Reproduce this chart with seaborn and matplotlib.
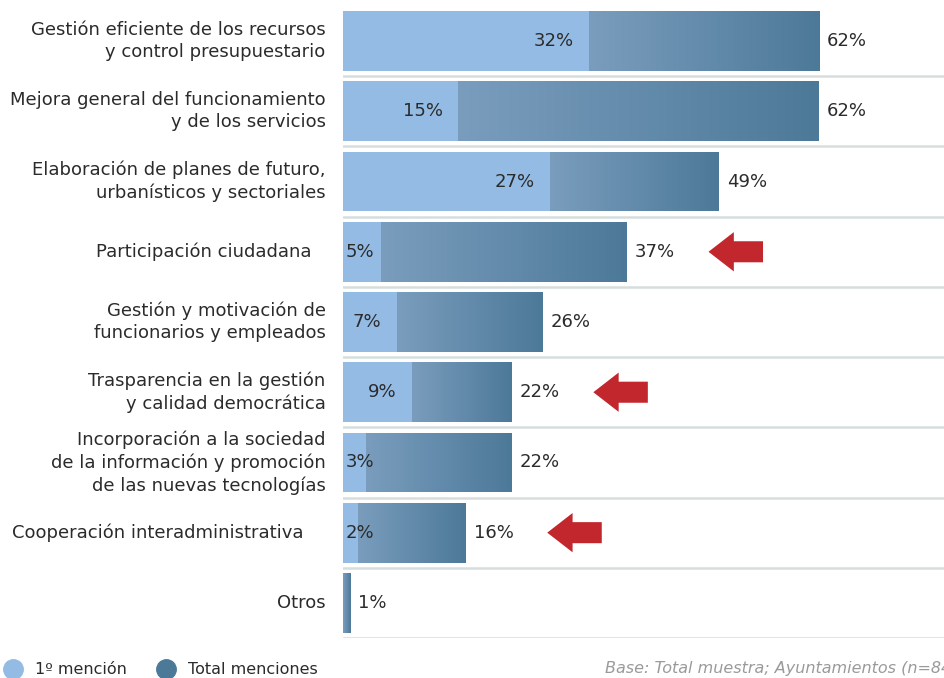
import matplotlib
matplotlib.use("Agg")
import matplotlib.pyplot as plt
import seaborn as sns
import pandas as pd
import numpy as np
from matplotlib.colors import LinearSegmentedColormap
from matplotlib.lines import Line2D
from matplotlib.patches import FancyArrow
from matplotlib.transforms import offset_copy

categories = [
    "Gestión eficiente de los recursos\ny control presupuestario",
    "Mejora general del funcionamiento\ny de los servicios",
    "Elaboración de planes de futuro,\nurbanísticos y sectoriales",
    "Participación ciudadana",
    "Gestión y motivación de\nfuncionarios y empleados",
    "Trasparencia en la gestión\ny calidad democrática",
    "Incorporación a la sociedad\nde la información y promoción\nde las nuevas tecnologías",
    "Cooperación interadministrativa",
    "Otros",
]
first_mention = [32, 15, 27, 5, 7, 9, 3, 2, 0]
total_mentions = [62, 62, 49, 37, 26, 22, 22, 16, 1]
highlighted = [
    "Participación ciudadana",
    "Trasparencia en la gestión\ny calidad democrática",
    "Cooperación interadministrativa",
]

LIGHT = "#93bbe4"
DARK_START = "#7a9dbd"
DARK_END = "#4d7999"
ARROW_RED = "#c1272d"
TEXT = "#2b2b2b"
FS = 13

# a few labels sit a little further left in the original layout
label_shift_pt = {
    "Participación ciudadana": 10,
    "Cooperación interadministrativa": 16,
}

df = pd.DataFrame({"category": categories, "first": first_mention, "total": total_mentions})

sns.set_theme(style="white")
plt.rcParams["font.family"] = ["DejaVu Sans"]

fig = plt.figure(figsize=(9.45, 6.78), dpi=100)
ax = fig.add_axes([343 / 945, 1 - 638 / 678, 1 - 343 / 945, (638 - 6) / 678])

# total mentions (later painted with a gradient)
sns.barplot(data=df, y="category", x="total", orient="h", color=DARK_END,
            width=0.85, ax=ax, saturation=1, linewidth=0)
total_patches = list(ax.patches)

grad_cmap = LinearSegmentedColormap.from_list("g", [DARK_START, DARK_END])
gradient = np.linspace(0, 1, 256).reshape(1, -1)
for p, f in zip(total_patches, df["first"]):
    x0 = p.get_x() + f
    x1 = p.get_x() + p.get_width()
    y0 = p.get_y()
    y1 = y0 + p.get_height()
    im = ax.imshow(gradient, cmap=grad_cmap, aspect="auto",
                   extent=(x0, x1, y1, y0), zorder=2)
    im.set_clip_path(p)
    p.set_zorder(1)

# first mention on top
sns.barplot(data=df, y="category", x="first", orient="h", color=LIGHT,
            width=0.85, ax=ax, saturation=1, linewidth=0, zorder=3)

ax.set_xlim(0, 78.4)
ax.set_ylim(len(categories) - 0.5, -0.5)
ax.set_xlabel("")
ax.set_ylabel("")
ax.set_xticks([])
ax.set_yticks(range(len(categories)))
ax.set_yticklabels([])
ax.tick_params(axis="y", left=False)
for s in ax.spines.values():
    s.set_visible(False)

# category labels
for i, c in enumerate(df["category"]):
    tr = offset_copy(ax.get_yaxis_transform(), fig=fig,
                     x=-12.5 - label_shift_pt.get(c, 0), y=0, units="points")
    ax.text(0, i, c, transform=tr, ha="right", va="center", fontsize=FS,
            color=TEXT, linespacing=1.3, multialignment="right")

# row separators
for i in range(len(categories)):
    ax.axhline(i + 0.5, color="#d6dddd", lw=1.8, zorder=0)

for i, (f, t) in enumerate(zip(df["first"], df["total"])):
    if f > 0:
        if f < 6:
            ax.text(0.3, i, f"{f}%", ha="left", va="center", fontsize=FS,
                    color=TEXT, zorder=4)
        else:
            ax.text(f - 2, i, f"{f}%", ha="right", va="center", fontsize=FS,
                    color=TEXT, zorder=4)
    ax.text(t + 1, i, f"{t}%", ha="left", va="center", fontsize=FS,
            color=TEXT, zorder=4)

# red arrows for highlighted items
for i, (c, t) in enumerate(zip(df["category"], df["total"])):
    if c in highlighted:
        tail = t + 10.6 + 7.1
        ax.add_patch(FancyArrow(tail, i, -7.1, 0, width=0.3, head_width=0.56,
                                head_length=3.3, length_includes_head=True,
                                color=ARROW_RED, lw=0, zorder=5))

handles = [
    Line2D([], [], marker="o", ls="", markersize=14, markerfacecolor=LIGHT,
           markeredgecolor=LIGHT),
    Line2D([], [], marker="o", ls="", markersize=14, markerfacecolor=DARK_END,
           markeredgecolor=DARK_END),
]
fig.legend(handles, ["1º mención", "Total menciones"], loc="center left",
           bbox_to_anchor=(5 / 945, 8 / 678), ncol=2, frameon=False,
           fontsize=11.5, handletextpad=0.85, columnspacing=2.0, handlelength=1.0,
           borderpad=0, borderaxespad=0, labelcolor=TEXT)

fig.text(605 / 945, 9 / 678, "Base: Total muestra; Ayuntamientos (n=84)",
         ha="left", va="center", fontsize=11.5, style="italic", color="#9a9a9a")

fig.savefig("out.png", dpi=100)
